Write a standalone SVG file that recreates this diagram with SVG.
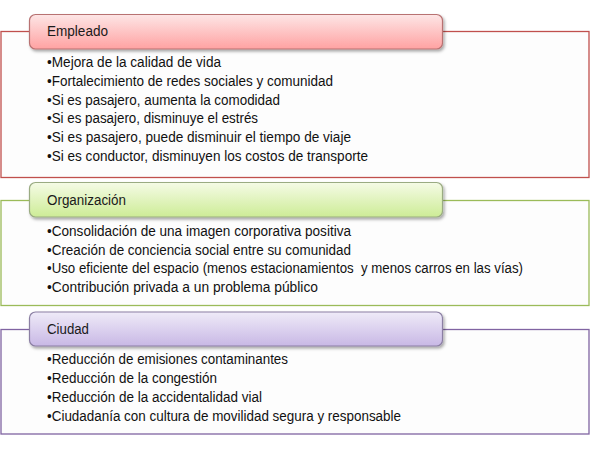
<svg xmlns="http://www.w3.org/2000/svg" width="590" height="449" viewBox="0 0 590 449">
<defs>
<linearGradient id="gRed" x1="0" y1="0" x2="0" y2="1"><stop offset="0" stop-color="#fde6e6"/><stop offset="1" stop-color="#ffa2a2"/></linearGradient>
<linearGradient id="gGreen" x1="0" y1="0" x2="0" y2="1"><stop offset="0" stop-color="#f5fbe6"/><stop offset="1" stop-color="#cdec96"/></linearGradient>
<linearGradient id="gPurple" x1="0" y1="0" x2="0" y2="1"><stop offset="0" stop-color="#efebf8"/><stop offset="1" stop-color="#c8b8e5"/></linearGradient>
<filter id="sh" x="-5%" y="-20%" width="110%" height="150%"><feDropShadow dx="1.5" dy="2" stdDeviation="1.5" flood-color="#000" flood-opacity="0.35"/></filter>
<style>
.box{fill:#fdfdfd;stroke-width:1.3}
.hdr{stroke-width:1.2;filter:url(#sh)}
.h{font-family:"Liberation Sans",Arial,sans-serif;font-size:14px;fill:#1a1a1a}
.t{font-family:"Liberation Sans",Arial,sans-serif;font-size:14px;fill:#111}
</style>
</defs>
<rect width="590" height="449" fill="#ffffff"/>

<g id="empleado">
<rect class="box" x="1" y="31.5" width="588" height="146" stroke="#c0504d"/>
<rect class="hdr" x="29.5" y="14.5" width="413" height="34.5" rx="6" fill="url(#gRed)" stroke="#b87272"/>
<text class="h" x="47" y="36" textLength="61" lengthAdjust="spacingAndGlyphs">Empleado</text>
<text class="t" x="47" y="67" textLength="174" lengthAdjust="spacingAndGlyphs">•Mejora de la calidad de vida</text>
<text class="t" x="47" y="85.5" textLength="286" lengthAdjust="spacingAndGlyphs">•Fortalecimiento de redes sociales y comunidad</text>
<text class="t" x="47" y="104.5" textLength="233" lengthAdjust="spacingAndGlyphs">•Si es pasajero, aumenta la comodidad</text>
<text class="t" x="47" y="123" textLength="211" lengthAdjust="spacingAndGlyphs">•Si es pasajero, disminuye el estrés</text>
<text class="t" x="47" y="141.5" textLength="304" lengthAdjust="spacingAndGlyphs">•Si es pasajero, puede disminuir el tiempo de viaje</text>
<text class="t" x="47" y="160.5" textLength="321" lengthAdjust="spacingAndGlyphs">•Si es conductor, disminuyen los costos de transporte</text>
</g>

<g id="organizacion">
<rect class="box" x="1" y="200.5" width="588" height="105" stroke="#9bbb59"/>
<rect class="hdr" x="29.5" y="182.5" width="413" height="34.5" rx="6" fill="url(#gGreen)" stroke="#9aab82"/>
<text class="h" x="47" y="204.5" textLength="79" lengthAdjust="spacingAndGlyphs">Organización</text>
<text class="t" x="47" y="235.5" textLength="304" lengthAdjust="spacingAndGlyphs">•Consolidación de una imagen corporativa positiva</text>
<text class="t" x="47" y="254.5" textLength="304" lengthAdjust="spacingAndGlyphs">•Creación de conciencia social entre su comunidad</text>
<text class="t" x="47" y="273" textLength="476" lengthAdjust="spacingAndGlyphs" xml:space="preserve">•Uso eficiente del espacio (menos estacionamientos  y menos carros en las vías)</text>
<text class="t" x="47" y="292" textLength="271" lengthAdjust="spacingAndGlyphs">•Contribución privada a un problema público</text>
</g>

<g id="ciudad">
<rect class="box" x="1" y="329.5" width="588" height="104.5" stroke="#8064a2"/>
<rect class="hdr" x="29.5" y="312" width="413" height="34" rx="6" fill="url(#gPurple)" stroke="#8b7fa3"/>
<text class="h" x="47" y="333.5" textLength="42" lengthAdjust="spacingAndGlyphs">Ciudad</text>
<text class="t" x="47" y="364" textLength="241" lengthAdjust="spacingAndGlyphs">•Reducción de emisiones contaminantes</text>
<text class="t" x="47" y="383" textLength="170" lengthAdjust="spacingAndGlyphs">•Reducción de la congestión</text>
<text class="t" x="47" y="402" textLength="215" lengthAdjust="spacingAndGlyphs">•Reducción de la accidentalidad vial</text>
<text class="t" x="47" y="421" textLength="354" lengthAdjust="spacingAndGlyphs">•Ciudadanía con cultura de movilidad segura y responsable</text>
</g>

<g id="connectors"></g>
</svg>
